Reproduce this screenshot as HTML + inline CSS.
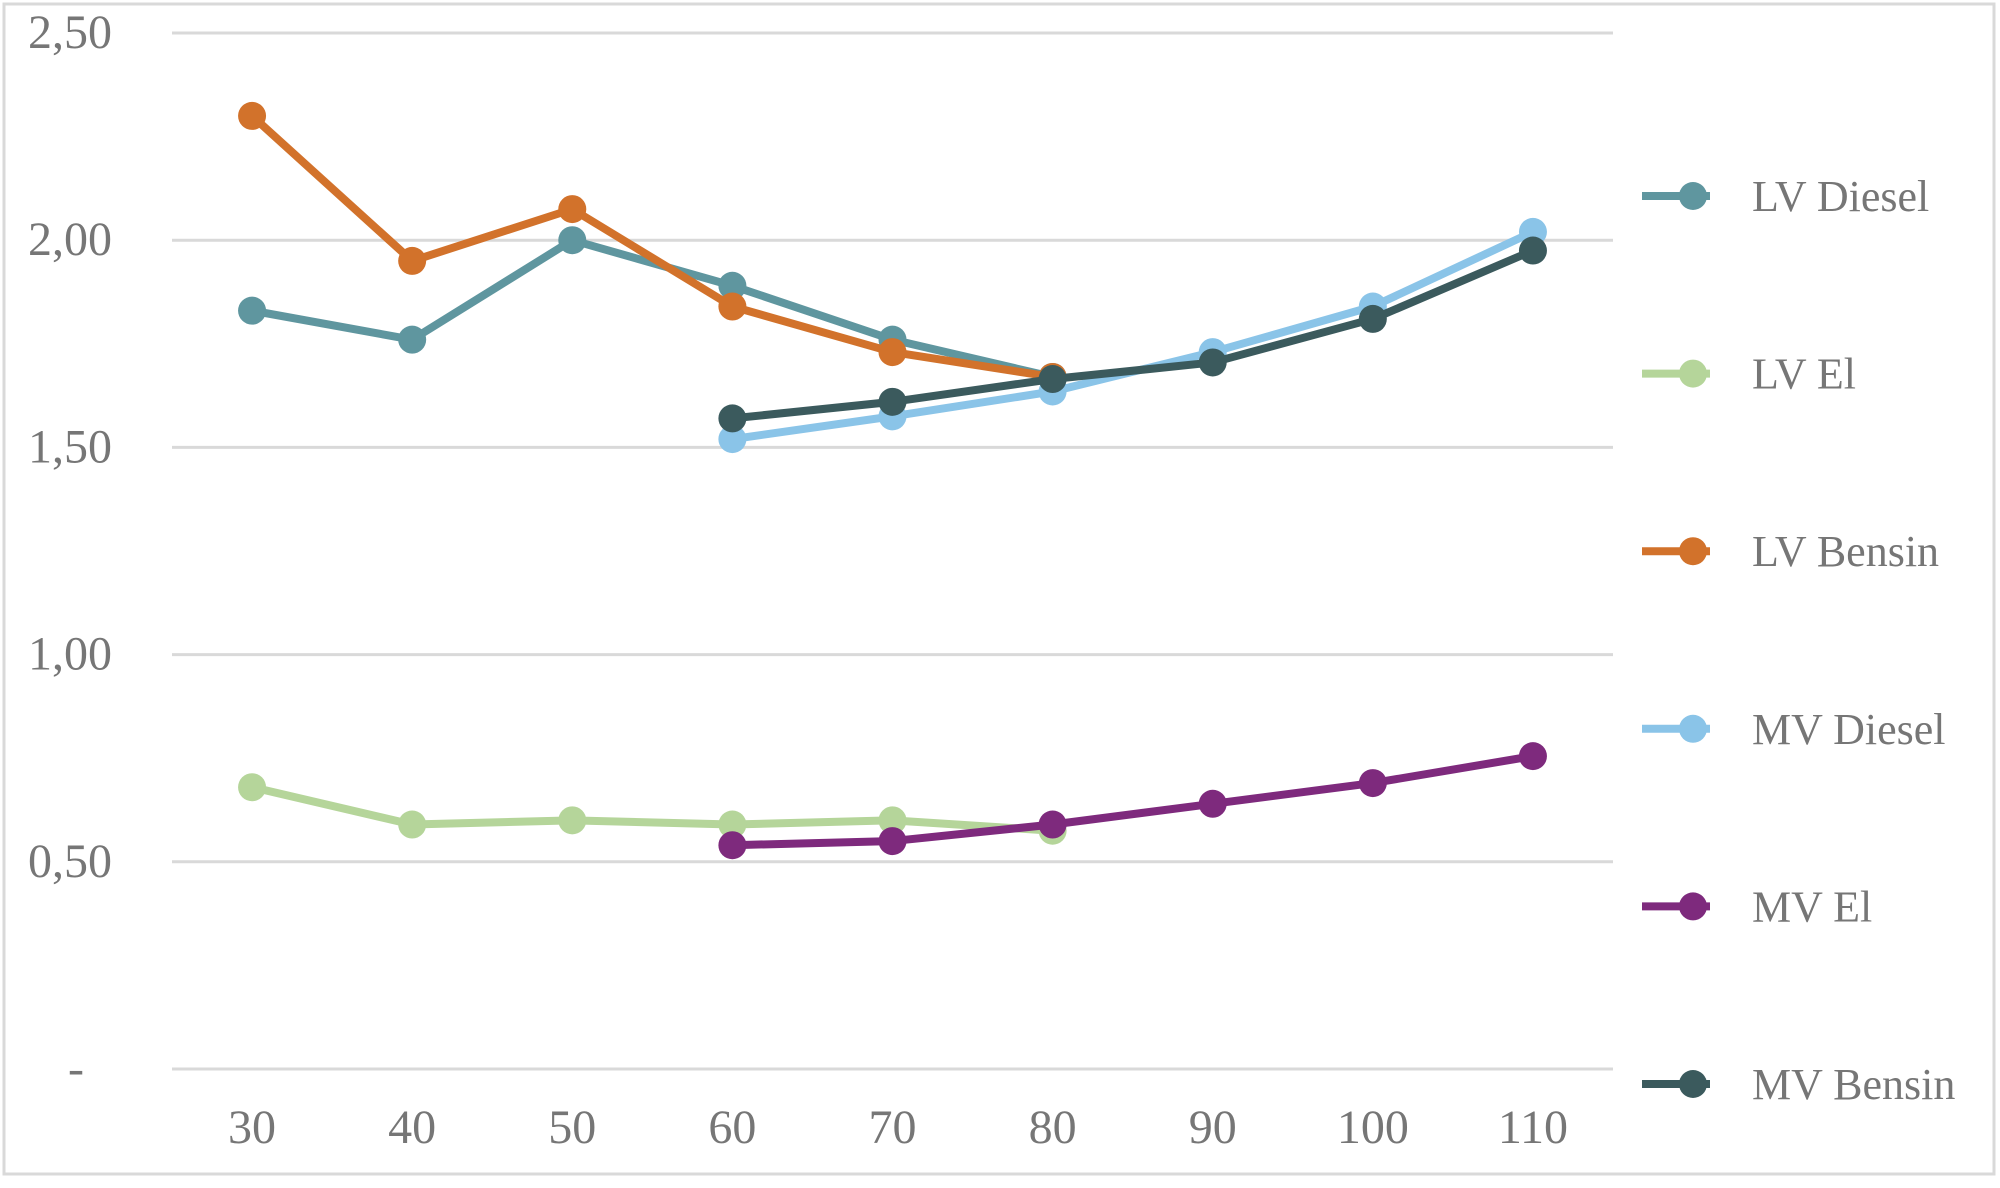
<!DOCTYPE html>
<html><head><meta charset="utf-8"><style>
html,body{margin:0;padding:0;background:#fff;}
svg text{font-family:"Liberation Serif",serif;fill:#767676;}
</style></head><body>
<svg id="chart" width="2000" height="1183" viewBox="0 0 2000 1183" xmlns="http://www.w3.org/2000/svg">
<rect x="4" y="4" width="1990" height="1170" fill="#fff" stroke="#d9d9d9" stroke-width="3"/>
<g id="grid"></g><g id="yt"></g><g id="xt"></g><g id="series"></g><g id="legend"></g>
</svg>
<script>
const categories=[30,40,50,60,70,80,90,100,110];
const yTicks=[0,0.5,1,1.5,2,2.5];
const yTickLabels=["-","0,50","1,00","1,50","2,00","2,50"];
const seriesNames=["LV Diesel","LV El","LV Bensin","MV Diesel","MV El","MV Bensin"];
const seriesColors=["#5f969f","#b5d59a","#d2722b","#8ac4e8","#7e2a7d","#3b5a5d"];
const lvDiesel=[1.83,1.76,2.00,1.89,1.76,1.67,null,null,null];
const lvEl=[0.68,0.59,0.60,0.59,0.60,0.575,null,null,null];
const lvBensin=[2.30,1.95,2.075,1.84,1.73,1.67,null,null,null];
const mvDiesel=[null,null,null,1.52,1.575,1.635,1.73,1.84,2.02];
const mvEl=[null,null,null,0.54,0.55,0.59,0.64,0.69,0.755];
const mvBensin=[null,null,null,1.57,1.61,1.665,1.705,1.81,1.975];
const allSeries=[lvDiesel,lvEl,lvBensin,mvDiesel,mvEl,mvBensin];

const NS="http://www.w3.org/2000/svg";
const L=172,R=1613,T0=1069,T25=33;
const band=(R-L)/categories.length;
const xs=i=>L+band*(i+0.5);
const ys=v=>T0-(v/2.5)*(T0-T25);
function mk(tag,parent,attrs){const e=document.createElementNS(NS,tag);for(const k in attrs)e.setAttribute(k,attrs[k]);parent.appendChild(e);return e;}
const grid=document.getElementById('grid'),yt=document.getElementById('yt'),xt=document.getElementById('xt'),sg=document.getElementById('series'),lg=document.getElementById('legend');
yTicks.forEach((v,i)=>{
  const l=mk('line',grid,{x1:L,x2:R,y1:ys(v),y2:ys(v),stroke:'#d9d9d9','stroke-width':3});
  
  
  const t=mk('text',yt,{x:i===0?84:112,y:ys(v)+15,'text-anchor':'end','font-size':48});
  t.textContent=yTickLabels[i];
  
  
});
categories.forEach((c,i)=>{
  const t=mk('text',xt,{x:xs(i),y:1143,'text-anchor':'middle','font-size':48});
  t.textContent=c;
  
  
});
allSeries.forEach((data,si)=>{
  const g=mk('g',sg,{});
  
  
  const pts=[];data.forEach((v,i)=>{if(v!==null)pts.push([xs(i),ys(v)]);});
  const pl=mk('polyline',g,{points:pts.map(p=>p.join(',')).join(' '),fill:'none',stroke:seriesColors[si],'stroke-width':8,'stroke-linejoin':'round'});
  
  
  pts.forEach(p=>{
    const c=mk('circle',g,{cx:p[0],cy:p[1],r:14,fill:seriesColors[si]});
    
    
  });
  const ly=196+si*177.6;
  const le=mk('g',lg,{});
  
  
  mk('line',le,{x1:1642,x2:1710,y1:ly,y2:ly,stroke:seriesColors[si],'stroke-width':8});
  mk('circle',le,{cx:1693,cy:ly,r:14,fill:seriesColors[si]});
  const t=mk('text',le,{x:1752,y:ly+15,'font-size':44});
  t.textContent=seriesNames[si];
});
</script>
</body></html>
